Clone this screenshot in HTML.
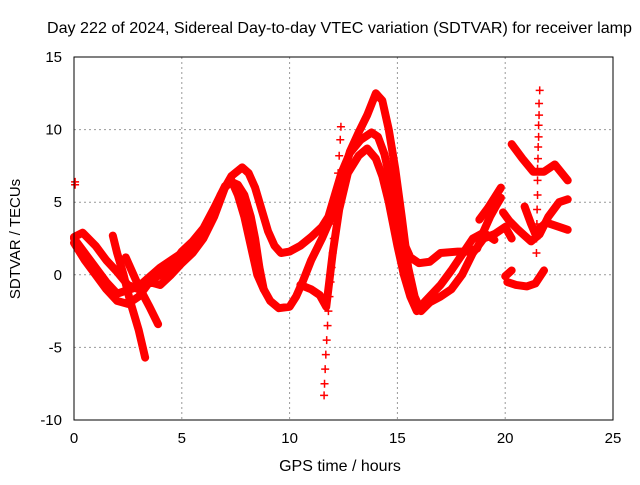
<!DOCTYPE html>
<html><head><meta charset="utf-8"><style>
body{margin:0;background:#fff;}
svg text{font-family:"Liberation Sans",sans-serif;font-size:15px;fill:#000;}
</style></head><body>
<svg width="640" height="480" viewBox="0 0 640 480" id="chart">
<rect width="640" height="480" fill="#fff"/>
<text x="47" y="33" textLength="585" lengthAdjust="spacingAndGlyphs" style="font-size:16px">Day 222 of 2024, Sidereal Day-to-day VTEC variation (SDTVAR) for receiver lamp</text>
<text transform="translate(20,239) rotate(-90)" text-anchor="middle">SDTVAR / TECUs</text>
<text x="340" y="471" text-anchor="middle" style="font-size:16px">GPS time / hours</text>
<g id="grid"></g>
<g id="marks"></g>
<rect x="74" y="57" width="539" height="363" fill="none" stroke="#000" stroke-width="1"/>
<g id="ticks"></g>
</svg>
<script>
const xTicks=[0,5,10,15,20,25];
const yTicks=[15,10,5,0,-5,-10];
const trackA=[[0,2.5],[0.5,1.5],[1,0.5],[1.5,-0.5],[2,-1.3],[3,-0.8],[4,0.5],[5,1.5],[6,3],[6.5,4.3],[6.8,5.5],[7.3,6.8],[7.8,7.4],[8.1,7],[8.4,6],[8.7,4.5],[9,3],[9.3,2],[9.6,1.5],[10,1.6],[10.5,2],[11,2.6],[11.5,3.3],[11.8,4],[12.1,5.5],[12.4,7],[12.8,8.4],[13.3,9.3],[13.8,9.8],[14.1,9.5],[14.4,8.3],[14.7,6.3],[15,4],[15.3,2.2],[15.6,1.2],[16,0.8],[16.5,0.9],[17,1.5],[17.8,1.6],[18.3,1.6],[18.7,1.8],[19,3],[19.3,4],[19.6,4.8],[19.8,5.3]];
const trackB=[[0,2.2],[0.5,1],[1,0],[1.5,-1],[2,-1.8],[2.5,-2],[3,-1.5],[3.5,-0.5],[4,-0.7],[4.5,0],[5,0.8],[5.5,1.5],[6,2.5],[6.5,4],[7,6],[7.3,6.5],[7.6,5.5],[7.9,4],[8.2,2],[8.5,0],[8.8,-1],[9.1,-1.8],[9.5,-2.3],[10,-2.2],[10.3,-1.5],[10.6,-0.5],[11,1],[11.5,2.5],[12,4.2],[12.4,6.5],[12.8,8.5],[13.2,9.8],[13.6,11],[14,12.5],[14.3,12],[14.6,10],[14.9,7.3],[15.2,4],[15.5,0.5],[15.8,-1.5],[16.1,-2.5],[16.5,-1.9],[17,-1.5],[17.5,-1],[18,0],[18.5,1.5],[19,2.5],[19.5,2.8],[20,3.3],[20.3,2.5]];
const trackC=[[0,2.6],[0.4,2.9],[1,2],[1.5,1],[2,0.2],[2.5,-0.7],[3,-1],[3.5,-0.4],[4,0],[4.5,0.6],[5,1.6],[5.5,2.3],[6,3.2],[6.5,4.6],[7,6.1],[7.3,6.4],[7.6,6.2],[7.9,5.5],[8.2,4],[8.4,2.5],[8.6,0.5],[8.8,-1]];
const trackD=[[10.5,-0.7],[11,-1],[11.4,-1.4],[11.7,-2.2],[12,1.5],[12.3,4.5],[12.7,7],[13.2,8.2],[13.6,8.7],[14,8],[14.3,6.8],[14.6,5],[15,2],[15.3,0],[15.6,-1.5],[15.9,-2.5],[16.3,-1.8],[17,-0.7],[17.5,0.3],[18,1.4],[18.5,2.5],[19,2.9],[19.5,2.4]];
const trackE=[[1.8,2.7],[2,1.5],[2.3,0],[2.6,-1.8],[3,-3.8],[3.3,-5.7]];
const trackF=[[2.4,1.2],[3,-0.8],[3.5,-2.2],[3.9,-3.4]];
const trackG=[[20.3,9],[20.8,8],[21.3,7.1],[21.8,7.1],[22.3,7.6],[22.9,6.5]];
const trackH=[[19.9,4.3],[20.2,3.7],[20.6,3.1],[20.9,2.7],[21.2,2.3],[21.6,2.8],[22,4],[22.5,5],[22.9,5.2]];
const trackI=[[21.6,3.2],[21.9,3.6],[22.3,3.4],[22.9,3.1]];
const trackJ=[[20.1,-0.5],[20.5,-0.7],[21,-0.8],[21.4,-0.6],[21.8,0.3]];
const trackK=[[20,-0.1],[20.3,0.3]];
const trackL=[[18.8,3.8],[19.2,4.6],[19.5,5.3],[19.8,6]];
const trackM=[[20.9,4.7],[21.2,3.5],[21.4,2.8]];
const tracks=[trackA,trackB,trackC,trackD,trackE,trackF,trackG,trackH,trackI,trackJ,trackK,trackL,trackM];
const spike1=[[11.6,-8.3],[11.62,-7.5],[11.65,-6.5],[11.68,-5.5],[11.72,-4.5],[11.76,-3.5],[11.8,-2.5],[11.85,-1.5],[11.9,-0.5],[11.95,0.5],[12,1.5],[12.05,2.5],[12.1,3.5],[12.15,4.5],[12.2,5.5],[12.25,7],[12.3,8.2],[12.35,9.3],[12.38,10.2]];
const spike2=[[21.45,1.5],[21.45,2.5],[21.47,3.5],[21.48,4.5],[21.5,5.5],[21.5,6.5],[21.5,7.3],[21.52,8],[21.53,8.8],[21.55,9.5],[21.55,10.3],[21.57,11],[21.57,11.8],[21.6,12.7]];
const outlier=[[0.05,6.2],[0.05,6.4]];
const X=h=>74+h*(539/25), Y=v=>57+(15-v)*(363/25);
const ns="http://www.w3.org/2000/svg";
const grid=document.getElementById('grid'),marks=document.getElementById('marks'),ticks=document.getElementById('ticks');
function mk(tag,attrs,parent){const e=document.createElementNS(ns,tag);for(const k in attrs)e.setAttribute(k,attrs[k]);parent.appendChild(e);return e;}
xTicks.forEach(t=>{
 if(t>0&&t<25){const g=mk('line',{x1:X(t),x2:X(t),y1:57,y2:420,stroke:'#999','stroke-dasharray':'2,3'},grid);
 
 }
 const l=mk('text',{x:X(t),y:443,'text-anchor':'middle'},ticks);l.textContent=t;
 
 
});
yTicks.forEach(t=>{
 if(t<15&&t>-10){const g=mk('line',{x1:74,x2:613,y1:Y(t),y2:Y(t),stroke:'#999','stroke-dasharray':'2,3'},grid);
 
 }
 const l=mk('text',{x:62,y:Y(t)+5,'text-anchor':'end'},ticks);l.textContent=t;
 
 
});
tracks.forEach(tr=>{
 const p=mk('polyline',{points:tr.map(d=>X(d[0])+','+Y(d[1])).join(' '),fill:'none',stroke:'#f00','stroke-width':8,'stroke-linejoin':'round','stroke-linecap':'round'},marks);
 
 
});
function plus(h,v){const x=X(h),y=Y(v);
 const p=mk('path',{d:`M${x-4},${y}H${x+4}M${x},${y-4}V${y+4}`,stroke:'#f00','stroke-width':1.5},marks);
 
 }
spike1.forEach(d=>plus(d[0],d[1]));
spike2.forEach(d=>plus(d[0],d[1]));
outlier.forEach(d=>plus(d[0],d[1]));
</script>
</body></html>
